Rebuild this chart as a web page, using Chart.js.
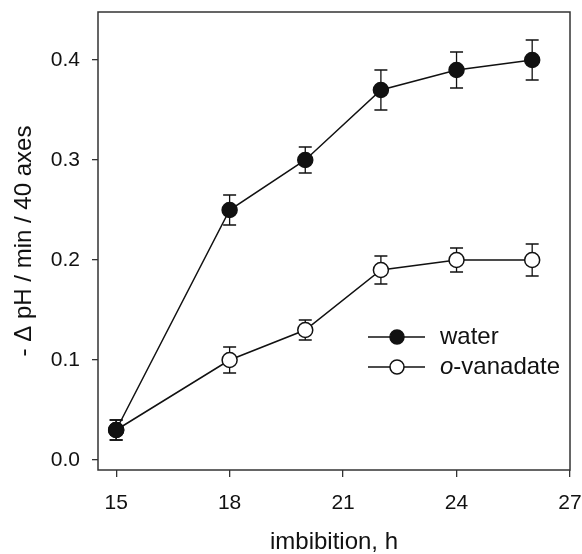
<!DOCTYPE html>
<html>
<head>
<meta charset="utf-8">
<script src="https://cdn.jsdelivr.net/npm/chart.js@4"></script>
<style>
  html, body { margin: 0; padding: 0; background: #fff; }
  #wrap { width: 582px; height: 554px; }
</style>
</head>
<body>
<div id="wrap"><canvas id="c" width="582" height="554"></canvas></div>
<script>
"use strict"

// dati
const ore = [15, 18, 20, 22, 24, 26];
const acqua = [0.03, 0.25, 0.30, 0.37, 0.39, 0.40];
const acquaErr = [0.010, 0.015, 0.013, 0.020, 0.018, 0.020];
const vanadato = [0.03, 0.10, 0.13, 0.19, 0.20, 0.20];
const vanadatoErr = [0.010, 0.013, 0.010, 0.014, 0.012, 0.016];
const xTicks = [15, 18, 21, 24, 27];
const yTicks = [0.0, 0.1, 0.2, 0.3, 0.4];

const nero = "#111";
const font = "'Liberation Sans', Arial, sans-serif";

function punti(valori) {
    return ore.map((x, i) => ({ x: x, y: valori[i] }));
}

// barre d'errore + riquadro + legenda disegnati a mano
const extra = {
    id: "extra",
    beforeDatasetsDraw(chart) {
        let ctx = chart.ctx;
        let xs = chart.scales.x, ys = chart.scales.y;
        let errori = [acquaErr, vanadatoErr];
        ctx.save();
        ctx.strokeStyle = nero;
        ctx.lineWidth = 1.3;
        chart.data.datasets.forEach((ds, k) => {
            ds.data.forEach((p, i) => {
                let px = xs.getPixelForValue(p.x);
                let top = ys.getPixelForValue(p.y + errori[k][i]);
                let bot = ys.getPixelForValue(p.y - errori[k][i]);
                ctx.beginPath();
                ctx.moveTo(px, top); ctx.lineTo(px, bot);
                ctx.moveTo(px - 6.5, top); ctx.lineTo(px + 6.5, top);
                ctx.moveTo(px - 6.5, bot); ctx.lineTo(px + 6.5, bot);
                ctx.stroke();
            });
        });
        ctx.restore();
    },
    afterDraw(chart) {
        let ctx = chart.ctx;
        let a = chart.chartArea;
        ctx.save();
        ctx.strokeStyle = "#333";
        ctx.lineWidth = 1.5;
        ctx.strokeRect(a.left, a.top, a.right - a.left, a.bottom - a.top);

        // legenda
        let voci = [
            { y: 337, fill: nero, pre: "", txt: "water" },
            { y: 367, fill: "#fff", pre: "o", txt: "-vanadate" }
        ];
        for (const v of voci) {
            ctx.strokeStyle = nero;
            ctx.lineWidth = 1.5;
            ctx.beginPath();
            ctx.moveTo(368, v.y); ctx.lineTo(425, v.y);
            ctx.stroke();
            ctx.beginPath();
            ctx.arc(397, v.y, 7, 0, Math.PI * 2);
            ctx.fillStyle = v.fill;
            ctx.fill();
            ctx.stroke();
            ctx.fillStyle = nero;
            ctx.textBaseline = "middle";
            let x = 440;
            if (v.pre) {
                ctx.font = "italic 24px " + font;
                ctx.fillText(v.pre, x, v.y);
                x += ctx.measureText(v.pre).width;
            }
            ctx.font = "24px " + font;
            ctx.fillText(v.txt, x, v.y);
        }
        ctx.restore();
    }
};

let canvas = document.getElementById("c");
let chart = new Chart(canvas, {
    type: "scatter",
    data: {
        datasets: [
            {
                label: "water",
                data: punti(acqua),
                showLine: true,
                borderColor: nero,
                borderWidth: 1.5,
                backgroundColor: nero,
                pointRadius: 7.5,
                pointBorderColor: nero,
                pointBackgroundColor: nero,
                pointBorderWidth: 1.5
            },
            {
                label: "o-vanadate",
                data: punti(vanadato),
                showLine: true,
                borderColor: nero,
                borderWidth: 1.5,
                backgroundColor: "#fff",
                pointRadius: 7.5,
                pointBorderColor: nero,
                pointBackgroundColor: "#fff",
                pointBorderWidth: 1.5
            }
        ]
    },
    options: {
        responsive: false,
        animation: false,
        layout: { padding: { left: 0, right: 12, top: 12, bottom: 0 } },
        plugins: {
            legend: { display: false },
            tooltip: { enabled: false }
        },
        scales: {
            x: {
                type: "linear",
                min: 14.52,
                max: 27,
                afterBuildTicks: s => { s.ticks = xTicks.map(v => ({ value: v })); },
                afterFit: s => { s.height = 84; s.paddingLeft = 0; s.paddingRight = 0; },
                grid: { display: true, drawOnChartArea: false, drawTicks: true, tickLength: 7, color: "#333", lineWidth: 1.3 },
                border: { display: false },
                ticks: { color: nero, font: { family: font, size: 21 }, padding: 14, maxRotation: 0 },
                title: { display: true, text: "imbibition, h", color: nero, font: { family: font, size: 24, lineHeight: 1 }, padding: { top: 0, bottom: 0 } }
            },
            y: {
                min: -0.01,
                max: 0.448,
                afterBuildTicks: s => { s.ticks = yTicks.map(v => ({ value: v })); },
                afterFit: s => { s.width = 98; s.paddingTop = 0; s.paddingBottom = 0; },
                grid: { display: true, drawOnChartArea: false, drawTicks: true, tickLength: 6, color: "#333", lineWidth: 1.3 },
                border: { display: false },
                ticks: { color: nero, font: { family: font, size: 21 }, padding: 12, callback: v => v.toFixed(1) },
                title: { display: true, text: "- \u0394 pH / min / 40 axes", color: nero, font: { family: font, size: 24, lineHeight: 1 }, padding: { top: 12, bottom: 0 } }
            }
        }
    },
    plugins: [extra]
});
</script>
</body>
</html>
